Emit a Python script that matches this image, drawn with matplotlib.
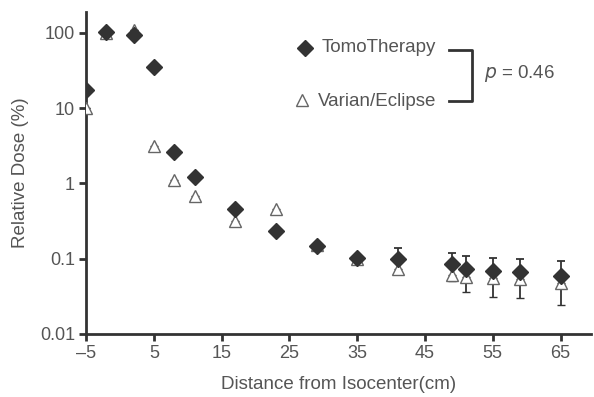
import numpy as np
import matplotlib.pyplot as plt
from matplotlib.lines import Line2D

plt.rcParams['font.family'] = ['Liberation Sans', 'DejaVu Sans']

# Data
dist_tomo = [-5, -2, 2, 5, 8, 11, 17, 23, 29, 35, 41, 49, 51, 55, 59, 65]
dose_tomo = [17.3, 103, 95, 35, 2.6, 1.22, 0.45, 0.23, 0.145, 0.103, 0.1, 0.086, 0.073, 0.068, 0.066, 0.058]
err_tomo_up = [0, 0, 0, 0, 0, 0, 0, 0, 0.01, 0.008, 0.04, 0.034, 0.037, 0.035, 0.034, 0.034]

dist_var = [-5, -2, 2, 5, 8, 11, 17, 23, 29, 35, 41, 49, 51, 55, 59, 65]
dose_var = [10, 100, 110, 3.1, 1.12, 0.67, 0.32, 0.46, 0.15, 0.1, 0.073, 0.061, 0.057, 0.056, 0.053, 0.047]
err_var_dn = [0, 0, 0, 0.25, 0.1, 0.06, 0.03, 0.04, 0.01, 0.005, 0.01, 0.01, 0.021, 0.025, 0.023, 0.023]

xticks = [-5, 5, 15, 25, 35, 45, 55, 65]
yticks = [0.01, 0.1, 1, 10, 100]
ytick_labels = ['0.01', '0.1', '1', '10', '100']

dark = '#333333'
txt = '#555555'

fig = plt.figure(figsize=(5.94, 3.97), dpi=100)
ax = fig.add_axes([0.145, 0.159, 0.85, 0.811])

# Varian/Eclipse: open triangles with downward error bars
ax.errorbar(dist_var, dose_var, yerr=[err_var_dn, [0] * len(err_var_dn)],
            fmt='^', ms=9, mfc='white', mec='#666666', mew=1.0,
            ecolor=dark, elinewidth=1.3, capsize=3, capthick=1.3, zorder=3)
# TomoTherapy: filled diamonds with upward error bars
ax.errorbar(dist_tomo, dose_tomo, yerr=[[0] * len(err_tomo_up), err_tomo_up],
            fmt='D', ms=8, mfc=dark, mec=dark,
            ecolor=dark, elinewidth=1.3, capsize=3, capthick=1.3, zorder=4)

ax.set_yscale('log')
ax.set_xlim(-5, 69.5)
ax.set_ylim(0.01, 190)
ax.set_xticks(xticks)
ax.set_xticklabels([f'{t}'.replace('-', '\u2013') for t in xticks])
ax.set_yticks(yticks)
ax.set_yticklabels(ytick_labels)
ax.minorticks_off()

for s in ['top', 'right']:
    ax.spines[s].set_visible(False)
for s in ['left', 'bottom']:
    ax.spines[s].set_color(dark)
    ax.spines[s].set_linewidth(2)
ax.tick_params(direction='out', length=5, width=2, color=dark,
               labelsize=13, labelcolor=txt, pad=3)

ax.set_xlabel('Distance from Isocenter(cm)', fontsize=13.5, color=txt, labelpad=10)
ax.set_ylabel('Relative Dose (%)', fontsize=13.5, color=txt, labelpad=8)

# Legend-like annotation with bracket and p-value
fig.add_artist(Line2D([305 / 594], [1 - 48 / 397], marker='D', ms=8,
                      color=dark, mec=dark, linestyle='none'))
fig.add_artist(Line2D([302 / 594], [1 - 100 / 397], marker='^', ms=9,
                      mfc='white', mec='#666666', linestyle='none'))
fig.text(322 / 594, 1 - 48 / 397, 'TomoTherapy', fontsize=13.5, color=txt, va='center')
fig.text(318 / 594, 1 - 101 / 397, 'Varian/Eclipse', fontsize=13.5, color=txt, va='center')
bx = np.array([449, 472, 472, 449]) / 594
by = 1 - np.array([50, 50, 101, 101]) / 397
fig.add_artist(Line2D(bx, by, color=dark, lw=2))
fig.text(484 / 594, 1 - 73 / 397, '$p$ = 0.46', fontsize=13.5, color=txt, va='center')

fig.savefig('out.png', dpi=100)
plt.close(fig)
